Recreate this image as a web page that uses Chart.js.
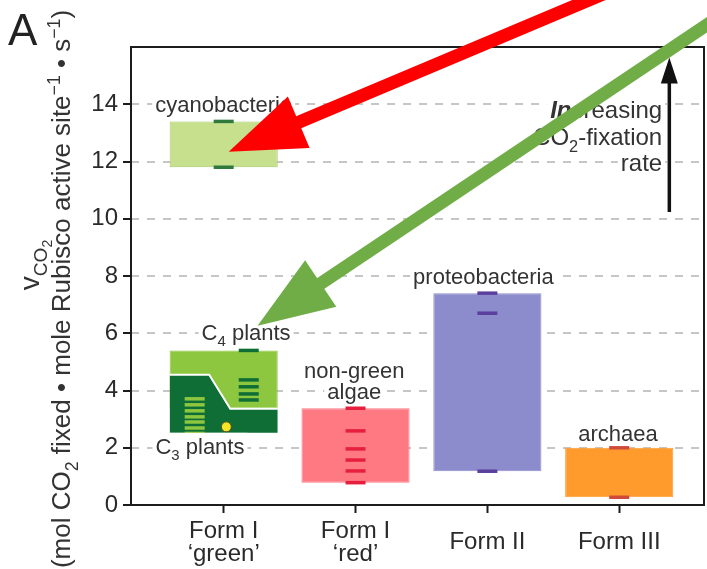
<!DOCTYPE html>
<html lang="en">
<head>
<meta charset="UTF-8">
<title>Rubisco CO2-fixation rates</title>
<style>
  html, body { margin: 0; padding: 0; background: #fff; }
  #wrap { width: 707px; height: 569px; position: relative; }
</style>
</head>
<body>
<div id="wrap"><canvas id="rates"></canvas></div>
<script src="https://cdn.jsdelivr.net/npm/chart.js"></script>
<script>
// Rubisco forms along the x axis
const forms = [['Form I', '\u2018green\u2019'], ['Form I', '\u2018red\u2019'], 'Form II', 'Form III'];
const yTicks = [0, 2, 4, 6, 8, 10, 12, 14];

// measured rates (mol CO2 / active site / s)
const cyanobacteria = [13.4, 11.8];
const c4Plants = [5.4, 4.37, 4.13, 3.88, 3.67];
const c3Plants = [3.71, 3.5, 3.29, 3.08, 2.9, 2.69, 2.5];
const c3Marked = [2.73];
const redAlgae = [3.38, 2.59, 1.96, 1.57, 1.19, 0.78];
const proteobacteria = [7.4, 6.7, 1.18];
const archaea = [2.0, 0.27];

// the green block: C4 band on top, stepped C3 block under it
const c4Range = [3.36, 5.4];
const c3Top = [4.55, 3.36];
const c3Floor = 2.52;

const FONT = '"Liberation Sans", Arial, Helvetica, sans-serif';
const span = v => [Math.min(...v), Math.max(...v)];
const HALF = 0.41; // half bar width in x units

const bars = [
  { x: 0, y: span(cyanobacteria) },
  { x: 0, y: c4Range },
  { x: 1, y: span(redAlgae) },
  { x: 2, y: span(proteobacteria) },
  { x: 3, y: span(archaea) }
];
const barFill = ['#c6e08e', '#8dc63f', '#ff7983', '#8c8ccd', '#ff9a2c'];
const barEdge = ['#a3cc63', '#8dc63f', '#ff7983', '#8c8ccd', '#ff9a2c'];

function marks(values, x, color) {
  return {
    type: 'scatter',
    data: values.map(v => ({ x: x, y: v })),
    pointStyle: 'line',
    pointRadius: 10,
    pointBorderWidth: 3.5,
    pointBorderColor: color,
    order: 0
  };
}

// text helpers: runs are [text, kind] with kind '', 'sub', 'sub2', 'sup', 'bi'
function runFont(size, kind) {
  let s = size;
  if (kind === 'sub' || kind === 'sup') s = size * 0.68;
  if (kind === 'sub2') s = size * 0.5;
  return (kind === 'bi' ? 'italic bold ' : '') + s + 'px ' + FONT;
}
function runShift(size, kind) {
  if (kind === 'sub') return size * 0.28;
  if (kind === 'sub2') return size * 0.45;
  if (kind === 'sup') return -size * 0.38;
  return 0;
}
function runsLeft(ctx, runs, x, size, align) {
  let w = 0;
  runs.forEach(([t, k]) => { ctx.font = runFont(size, k); w += ctx.measureText(t).width; });
  return { left: align === 'right' ? x - w : x - w / 2, w: w };
}
function drawBacking(ctx, runs, x, y, size, align) {
  const { left, w } = runsLeft(ctx, runs, x, size, align);
  ctx.fillStyle = '#fff';
  ctx.fillRect(left - 3, y - size * 0.6, w + 6, size * 1.2);
}
function drawRuns(ctx, runs, x, y, size, align) {
  let { left } = runsLeft(ctx, runs, x, size, align);
  ctx.fillStyle = '#333';
  ctx.textAlign = 'left';
  ctx.textBaseline = 'alphabetic';
  const base = y + size * 0.36;
  runs.forEach(([t, k]) => {
    ctx.font = runFont(size, k);
    ctx.fillText(t, left, base + runShift(size, k));
    left += ctx.measureText(t).width;
  });
}

const notes = [
  { runs: [['cyanobacteria']], x: 0, y: 14 },
  { runs: [['C'], ['4', 'sub'], [' plants']], x: 0.17, y: 6.05 },
  { runs: [['C'], ['3', 'sub'], [' plants']], x: -0.18, y: 2.06 },
  { runs: [['non-green']], x: 0.99, y: 4.72 },
  { runs: [['algae']], x: 0.99, y: 3.99 },
  { runs: [['proteobacteria']], x: 1.97, y: 8.0 },
  { runs: [['archaea']], x: 2.99, y: 2.52 },
  { runs: [['In', 'bi'], ['creasing']], x: 3.326, y: 13.81, align: 'right', size: 24 },
  { runs: [['CO'], ['2', 'sub'], ['-fixation']], x: 3.326, y: 12.87, align: 'right', size: 24 },
  { runs: [['rate']], x: 3.326, y: 11.96, align: 'right', size: 24 }
];

// pointer arrows, tail -> tip in data units
const pointers = [
  { from: [2.955, 18.0], to: [0.038, 12.34], color: '#ff0000' },
  { from: [3.757, 17.06], to: [0.257, 6.26], color: '#70ad47' }
];

function arrow(ctx, x0, y0, x1, y1, shaft, headLen, headW, color) {
  const a = Math.atan2(y1 - y0, x1 - x0);
  const bx = x1 - Math.cos(a) * headLen, by = y1 - Math.sin(a) * headLen;
  ctx.save();
  ctx.strokeStyle = color;
  ctx.fillStyle = color;
  ctx.lineWidth = shaft;
  ctx.lineCap = 'butt';
  ctx.beginPath();
  ctx.moveTo(x0, y0);
  ctx.lineTo(bx + Math.cos(a) * 2, by + Math.sin(a) * 2);
  ctx.stroke();
  ctx.beginPath();
  ctx.moveTo(x1, y1);
  ctx.lineTo(bx + Math.sin(a) * headW / 2, by - Math.cos(a) * headW / 2);
  ctx.lineTo(bx - Math.sin(a) * headW / 2, by + Math.cos(a) * headW / 2);
  ctx.closePath();
  ctx.fill();
  ctx.restore();
}

const decorations = {
  id: 'decorations',
  afterDatasetsDraw(chart) {
    const { ctx, chartArea: area, scales: { x, y } } = chart;
    ctx.save();
    // frame
    ctx.strokeStyle = '#1c1c1c';
    ctx.lineWidth = 2;
    ctx.strokeRect(area.left, area.top, area.width, area.height);
    // labels: white boxes first so they never clip a neighbouring line
    notes.forEach(n => drawBacking(ctx, n.runs, x.getPixelForValue(n.x), y.getPixelForValue(n.y), n.size || 22, n.align || 'center'));
    notes.forEach(n => drawRuns(ctx, n.runs, x.getPixelForValue(n.x), y.getPixelForValue(n.y), n.size || 22, n.align || 'center'));
    // "increasing" arrow
    arrow(ctx, x.getPixelForValue(3.38), y.getPixelForValue(10.24), x.getPixelForValue(3.38), y.getPixelForValue(15.63), 3.5, 26, 17, '#111');
    ctx.restore();
  },
  afterDraw(chart) {
    const { ctx, scales: { x, y } } = chart;
    ctx.save();
    // panel letter
    ctx.fillStyle = '#222';
    ctx.font = '44px ' + FONT;
    ctx.textBaseline = 'alphabetic';
    ctx.fillText('A', 8, 45);
    // y axis title
    ctx.save();
    ctx.translate(29, 265);
    ctx.rotate(-Math.PI / 2);
    drawRuns(ctx, [['v'], ['CO', 'sub'], ['2', 'sub2']], 0, 0, 28, 'center');
    ctx.restore();
    ctx.save();
    ctx.translate(61, 289);
    ctx.rotate(-Math.PI / 2);
    drawRuns(ctx, [['(mol CO'], ['2', 'sub'], [' fixed \u2022 mole Rubisco active site'], ['\u22121', 'sup'], [' \u2022 s'], ['\u22121', 'sup'], [')']], 0, 0, 26, 'center');
    ctx.restore();
    pointers.forEach(p => arrow(ctx,
      x.getPixelForValue(p.from[0]), y.getPixelForValue(p.from[1]),
      x.getPixelForValue(p.to[0]), y.getPixelForValue(p.to[1]),
      13, 76, 56, p.color));
    ctx.restore();
  }
};

new Chart(document.getElementById('rates'), {
  type: 'bar',
  data: {
    datasets: [
      marks(cyanobacteria, 0, '#2f7a3a'),
      marks(c4Plants, 0.19, '#0e6e35'),
      marks(c3Plants, -0.22, '#8dc63f'),
      marks(redAlgae, 1, '#e51f3d'),
      marks(proteobacteria, 2, '#5a3f9e'),
      marks(archaea, 3, '#cf4a3a'),
      {
        type: 'scatter',
        data: c3Marked.map(v => ({ x: 0.02, y: v })),
        pointRadius: 5,
        pointBackgroundColor: '#f4e526',
        pointBorderColor: '#4d4a22',
        pointBorderWidth: 1,
        order: 0
      },
      {
        type: 'line',
        data: [
          { x: -HALF, y: c3Top[0] }, { x: -0.11, y: c3Top[0] },
          { x: 0.05, y: c3Top[1] }, { x: HALF, y: c3Top[1] }
        ],
        fill: { value: c3Floor },
        backgroundColor: '#0e6e35',
        borderColor: '#ffffff',
        borderWidth: 2,
        pointRadius: 0,
        tension: 0,
        order: 1
      },
      {
        type: 'bar',
        data: bars,
        backgroundColor: barFill,
        borderColor: barEdge,
        borderWidth: 1,
        borderSkipped: false,
        categoryPercentage: 1,
        barPercentage: 0.82,
        order: 2
      }
    ]
  },
  options: {
    responsive: true,
    maintainAspectRatio: false,
    animation: false,
    events: [],
    layout: { autoPadding: false, padding: { top: 47, right: 3, left: 0, bottom: 0 } },
    plugins: { legend: { display: false }, tooltip: { enabled: false } },
    scales: {
      x: {
        type: 'linear',
        min: -0.703,
        max: 3.643,
        offset: false,
        afterBuildTicks: s => { s.ticks = forms.map((_, i) => ({ value: i })); },
        afterFit: s => { s.height = 64; s.paddingLeft = 0; s.paddingRight = 0; },
        ticks: {
          autoSkip: false,
          maxRotation: 0,
          padding: 18,
          crossAlign: 'center',
          color: '#2a2a2a',
          font: { family: FONT, size: 24, lineHeight: 0.96 },
          callback: v => forms[v]
        },
        grid: { offset: false, drawOnChartArea: false, drawTicks: true, tickLength: 8, tickColor: '#1c1c1c', tickWidth: 2 },
        border: { display: false }
      },
      y: {
        min: 0,
        max: 16,
        afterBuildTicks: s => { s.ticks = yTicks.map(v => ({ value: v })); },
        afterFit: s => { s.width = 131; },
        ticks: { padding: 5, color: '#2a2a2a', font: { family: FONT, size: 24 } },
        grid: { color: '#c6c6c6', lineWidth: 2, tickLength: 8, tickColor: '#1c1c1c', tickWidth: 2, tickBorderDash: [] },
        border: { display: false, dash: [8, 8] }
      }
    }
  },
  plugins: [decorations]
});
</script>
</body>
</html>
